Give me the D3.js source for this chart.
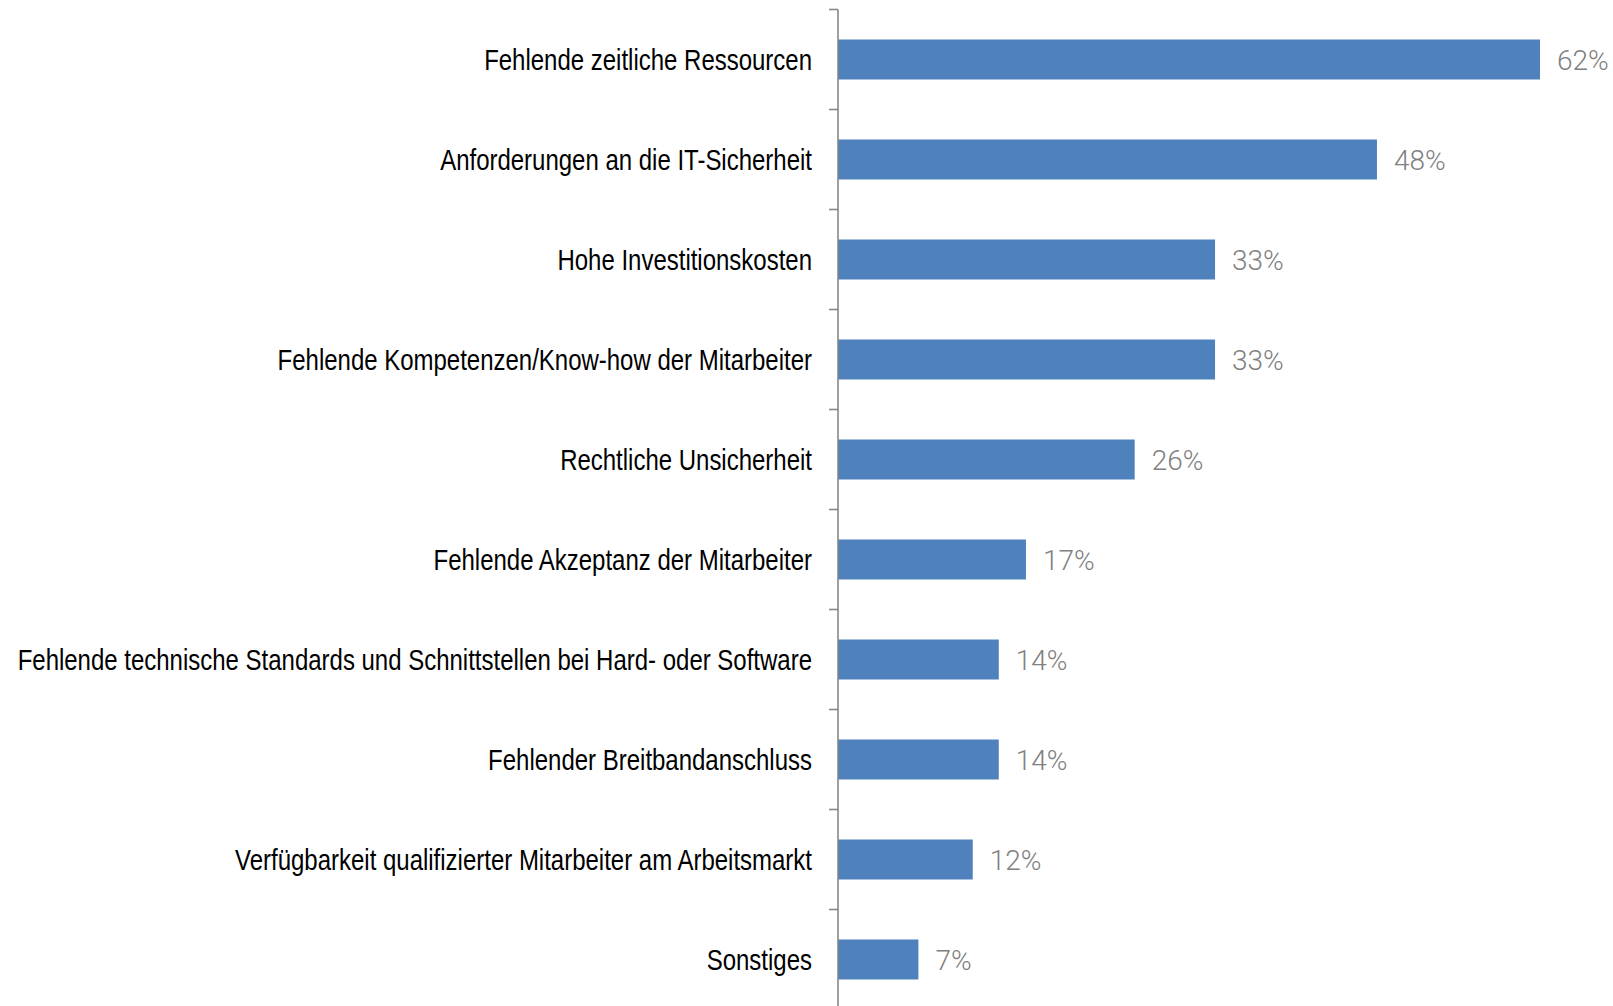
<!DOCTYPE html>
<html>
<head>
<meta charset="utf-8">
<script src="https://cdn.jsdelivr.net/npm/d3@7"></script>
<style>
  html, body { margin: 0; padding: 0; background: #fff; }
  svg { display: block; }
</style>
</head>
<body>
<svg id="chart" width="1613" height="1006"></svg>
<script>
const categories = [
  "Fehlende zeitliche Ressourcen",
  "Anforderungen an die IT-Sicherheit",
  "Hohe Investitionskosten",
  "Fehlende Kompetenzen/Know-how der Mitarbeiter",
  "Rechtliche Unsicherheit",
  "Fehlende Akzeptanz der Mitarbeiter",
  "Fehlende technische Standards und Schnittstellen bei Hard- oder Software",
  "Fehlender Breitbandanschluss",
  "Verfügbarkeit qualifizierter Mitarbeiter am Arbeitsmarkt",
  "Sonstiges"
];
const values = [62, 47.6, 33.3, 33.3, 26.2, 16.6, 14.2, 14.2, 11.9, 7.1];
const valueLabels = ["62%", "48%", "33%", "33%", "26%", "17%", "14%", "14%", "12%", "7%"];

const svg = d3.select("#chart");
const axisX = 838;

const x = d3.scaleLinear().domain([0, 62]).range([axisX, 1540]);
const y = d3.scaleBand().domain(categories).range([9.5, 1009.5])
  .paddingInner(0.6).paddingOuter(0.3);

const gap = (y.step() - y.bandwidth()) / 2;

// bars
svg.append("g").selectAll("rect").data(categories).join("rect")
  .attr("x", x(0))
  .attr("y", d => y(d))
  .attr("width", (d, i) => x(values[i]) - x(0))
  .attr("height", y.bandwidth())
  .attr("fill", "#4f81bd");

// axis line and ticks
const axis = svg.append("g").attr("stroke", "#888888").attr("stroke-width", 1.6);
axis.append("line")
  .attr("x1", axisX).attr("x2", axisX)
  .attr("y1", y.range()[0]).attr("y2", y.range()[1]);
axis.selectAll("line.tick").data(categories).join("line")
  .attr("class", "tick")
  .attr("x1", axisX - 9).attr("x2", axisX)
  .attr("y1", d => y(d) - gap).attr("y2", d => y(d) - gap);

// category labels (condensed sans)
svg.append("g").selectAll("g").data(categories).join("g")
  .attr("transform", d => `translate(812, ${y(d) + y.bandwidth() / 2}) scale(0.813, 1)`)
  .append("text")
  .attr("text-anchor", "end")
  .attr("dy", "0.36em")
  .attr("font-family", "'Liberation Sans', Arial, sans-serif")
  .attr("font-size", 29.5)
  .attr("fill", "#000")
  .text(d => d);

// value labels
svg.append("g").selectAll("text").data(categories).join("text")
  .attr("x", (d, i) => x(values[i]) + 17)
  .attr("y", d => y(d) + y.bandwidth() / 2)
  .attr("dy", "0.36em")
  .attr("font-family", "Roboto, 'Open Sans', sans-serif")
  .attr("font-weight", 300)
  .attr("font-size", 28)
  .attr("fill", "#808080")
  .text((d, i) => valueLabels[i]);
</script>
</body>
</html>
